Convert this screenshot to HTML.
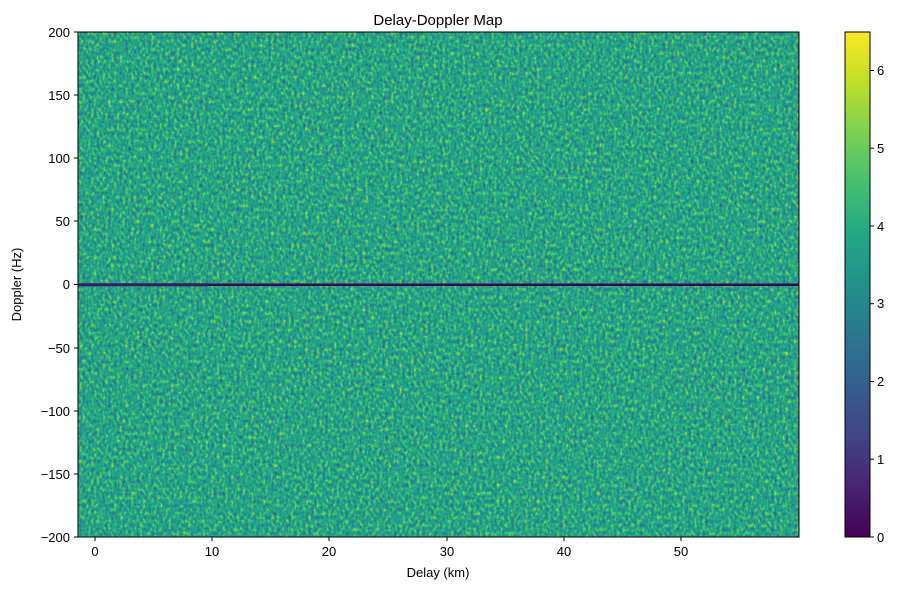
<!DOCTYPE html>
<html><head><style>
body{margin:0;background:#fff;}
text{font-family:"Liberation Sans",sans-serif;fill:#000;}
</style></head><body>
<svg width="898" height="590" xmlns="http://www.w3.org/2000/svg">
<defs>
<filter id="n" x="0" y="0" width="100%" height="100%" color-interpolation-filters="sRGB">
<feTurbulence type="fractalNoise" baseFrequency="0.35 0.25" numOctaves="2" seed="3" result="t"/>
<feColorMatrix in="t" type="matrix" values="1 0 0 0 0  1 0 0 0 0  1 0 0 0 0  0 0 0 0 1"/>
<feComponentTransfer>
<feFuncR type="table" tableValues="0.27 0.25 0.16 0.13 0.13 0.15 0.27 0.48 0.70 0.99"/>
<feFuncG type="table" tableValues="0.00 0.27 0.47 0.55 0.61 0.68 0.75 0.82 0.87 0.91"/>
<feFuncB type="table" tableValues="0.33 0.53 0.56 0.55 0.55 0.50 0.44 0.32 0.20 0.14"/>
</feComponentTransfer>
</filter>
<linearGradient id="v" x1="0" y1="1" x2="0" y2="0">
<stop offset="0" stop-color="#440154"/><stop offset="0.1" stop-color="#482475"/>
<stop offset="0.2" stop-color="#414487"/><stop offset="0.3" stop-color="#355f8d"/>
<stop offset="0.4" stop-color="#2a788e"/><stop offset="0.5" stop-color="#21918c"/>
<stop offset="0.6" stop-color="#22a884"/><stop offset="0.7" stop-color="#44bf70"/>
<stop offset="0.8" stop-color="#7ad151"/><stop offset="0.9" stop-color="#bddf26"/>
<stop offset="1" stop-color="#fde725"/>
</linearGradient>
</defs>
<rect x="78" y="32" width="721" height="505" fill="#2aa585"/>
<rect x="78" y="32" width="721" height="505" filter="url(#n)"/>
<rect x="78" y="283.5" width="721" height="2.5" fill="#440154"/>
<rect x="78" y="283" width="130" height="3.5" fill="#3b2a6a" opacity="0.6"/>
<rect x="78" y="32" width="721" height="505" fill="none" stroke="#000" stroke-width="1"/>
<g stroke="#000">
<line x1="95" y1="537" x2="95" y2="541"/><line x1="212" y1="537" x2="212" y2="541"/>
<line x1="329" y1="537" x2="329" y2="541"/><line x1="447" y1="537" x2="447" y2="541"/>
<line x1="564" y1="537" x2="564" y2="541"/><line x1="681" y1="537" x2="681" y2="541"/>
<line x1="74" y1="32" x2="78" y2="32"/><line x1="74" y1="95" x2="78" y2="95"/>
<line x1="74" y1="158" x2="78" y2="158"/><line x1="74" y1="221" x2="78" y2="221"/>
<line x1="74" y1="284.5" x2="78" y2="284.5"/><line x1="74" y1="348" x2="78" y2="348"/>
<line x1="74" y1="411" x2="78" y2="411"/><line x1="74" y1="474" x2="78" y2="474"/>
<line x1="74" y1="537" x2="78" y2="537"/>
</g>
<g font-size="13" text-anchor="middle">
<text x="95" y="556">0</text><text x="212" y="556">10</text><text x="329" y="556">20</text>
<text x="447" y="556">30</text><text x="564" y="556">40</text><text x="681" y="556">50</text>
<text x="438" y="577">Delay (km)</text>
</g>
<g font-size="13" text-anchor="end">
<text x="70" y="37">200</text><text x="70" y="100">150</text><text x="70" y="163">100</text>
<text x="70" y="226">50</text><text x="70" y="289">0</text><text x="70" y="353">−50</text>
<text x="70" y="416">−100</text><text x="70" y="479">−150</text><text x="70" y="542">−200</text>
</g>
<text transform="translate(21,284.5) rotate(-90)" font-size="13" text-anchor="middle">Doppler (Hz)</text>
<text x="438" y="25" font-size="15" text-anchor="middle">Delay-Doppler Map</text>
<rect x="845" y="32" width="25" height="505" fill="url(#v)" stroke="#000" stroke-width="1"/>
<g stroke="#000">
<line x1="870" y1="537" x2="874" y2="537"/><line x1="870" y1="459.2" x2="874" y2="459.2"/>
<line x1="870" y1="381.5" x2="874" y2="381.5"/><line x1="870" y1="303.7" x2="874" y2="303.7"/>
<line x1="870" y1="226" x2="874" y2="226"/><line x1="870" y1="148.2" x2="874" y2="148.2"/>
<line x1="870" y1="70.5" x2="874" y2="70.5"/>
</g>
<g font-size="13">
<text x="877" y="542">0</text><text x="877" y="464">1</text><text x="877" y="386">2</text>
<text x="877" y="308">3</text><text x="877" y="231">4</text><text x="877" y="153">5</text>
<text x="877" y="75">6</text>
</g>
</svg>
</body></html>
